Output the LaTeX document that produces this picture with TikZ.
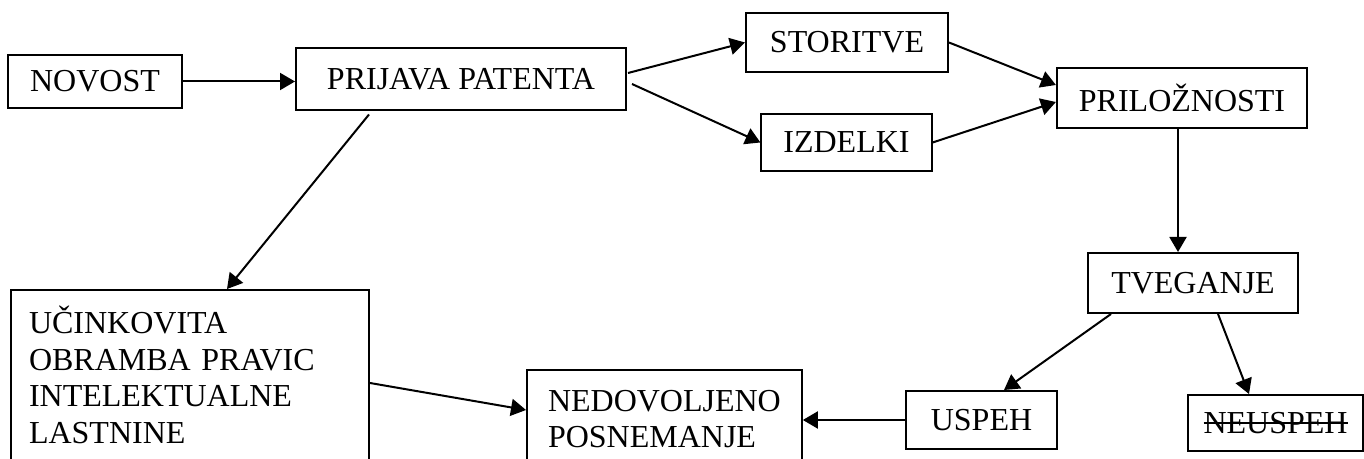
\documentclass[tikz,border=0pt]{standalone}
\usepackage{fontspec}
\setmainfont{Liberation Serif}
\usepackage{tikz}
\usetikzlibrary{positioning,arrows.meta,calc}
\newcommand{\patfont}{\fontsize{16}{18.35}\selectfont}
\newsavebox{\strikebox}
\newcommand{\capstrike}[1]{\sbox{\strikebox}{#1}\usebox{\strikebox}\llap{\rule[0.29em]{\wd\strikebox}{1pt}}}
\tikzset{
  patbox/.style={draw=black, line width=1pt, inner xsep=11pt, inner ysep=0pt, align=center, font=\patfont},
  tallbox/.style={patbox, anchor=north west, align=left},
  patarr/.style={-{Triangle[length=7.5pt,width=8.5pt]}, line width=1pt}
}

\begin{document}
\begin{tikzpicture}[x=0.5pt, y=-0.5pt]
\clip (0,0) rectangle (1364,459);
\node[patbox, minimum height=26.5pt] (novost) at (95,81.5) {NOVOST};
\node[patbox, minimum width=165pt, minimum height=31pt] (prijava) at (461,79.5) {PRIJAVA PATENTA};
\node[patbox, minimum width=101pt, minimum height=29.5pt] (storitve) at (847,42.5) {STORITVE};
\node[patbox, minimum width=84.5pt, minimum height=28.5pt] (izdelki) at (846.5,142.5) {IZDELKI};
\node[patbox, minimum width=124pt, minimum height=30pt] (priloz) at (1182,98) {PRILOŽNOSTI};
\node[patbox, minimum width=105pt, minimum height=30pt] (tveganje) at (1193,283) {TVEGANJE};
\node[patbox, minimum width=75.5pt, minimum height=29pt] (uspeh) at (981.5,420) {USPEH};
\node[patbox, inner xsep=4pt, minimum width=87.5pt, minimum height=28pt] (neuspeh) at (1275.5,423) {\capstrike{NEUSPEH}};
\node[tallbox, text width=161pt, inner xsep=9pt, inner ysep=8pt] (ucink) at (10,289)
  {UČINKOVITA\\OBRAMBA PRAVIC\\INTELEKTUALNE\\LASTNINE\\ \mbox{}};
\node[tallbox, inner xsep=10.5pt, inner ysep=10pt] (nedov) at (526,369)
  {NEDOVOLJENO\\POSNEMANJE\\ \mbox{}};

\draw[patarr] (novost.east) -- (novost.east -| prijava.west);
\draw[patarr] ($(prijava.east)+(1,-6.5)$) -- (storitve.west);
\draw[patarr] ($(prijava.east)+(5,4.5)$) -- (izdelki.west);
\draw[patarr] (storitve.east) -- ($(priloz.west)+(0,-13)$);
\draw[patarr] (izdelki.east) -- ($(priloz.west)+(0,4)$);
\draw[patarr] ([xshift=-2pt]priloz.south) -- ([xshift=-2pt]priloz.south |- tveganje.north);
\draw[patarr] ($(tveganje.south west)+(24,0)$) -- ($(uspeh.north)+(22.5,0)$);
\draw[patarr] ($(tveganje.south)+(25,0)$) -- ($(neuspeh.north)+(-26.5,0)$);
\draw[patarr] (uspeh.west) -- (uspeh.west -| nedov.east);
\draw[patarr] ($(ucink.north east)+(0,94)$) -- ($(nedov.north west)+(0,41)$);
\draw[patarr] ($(prijava.south west)+(74,3)$) -- ($(ucink.north west)+(217,0)$);
\end{tikzpicture}
\end{document}
